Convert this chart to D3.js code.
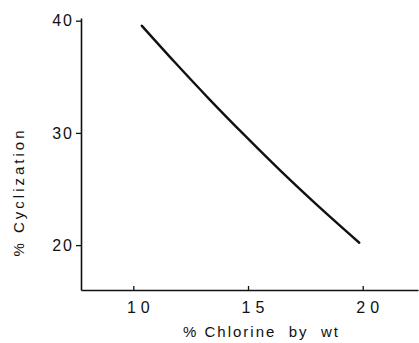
<!DOCTYPE html>
<html>
<head>
<meta charset="utf-8">
<script src="https://d3js.org/d3.v7.min.js"></script>
<style>
  body { margin: 0; background: #fff; }
  text { font-family: "Liberation Sans", Arial, sans-serif; fill: #111; }
</style>
</head>
<body>
<div id="graph"></div>
<script>
      // size of the picture
      var w = 419;
      var h = 343;

      // values
      var chlorine = [10.37, 11.82, 13.34, 14.87, 16.39, 17.92, 19.85];
      var cyclization = [39.55, 36.27, 32.95, 29.75, 26.68, 23.74, 20.21];

      // tick labels
      var xTicks = [10, 15, 20];
      var yTicks = [20, 30, 40];

      var xScale = d3.scaleLinear()
                      .domain([7.72, 22.41])
                      .range([81, 418]);

      var yScale = d3.scaleLinear()
                      .domain([16, 40.24])
                      .range([290, 18]);

      var svg = d3.select("#graph")
                  .append("svg")
                  .attr("width", w)
                  .attr("height", h);

      // x axis, ticks point up into the plot
      var xAxis = d3.axisBottom(xScale)
                      .tickValues(xTicks)
                      .tickSizeInner(-4)
                      .tickSizeOuter(0)
                      .tickPadding(12)
                      .tickFormat(function(d){ return d; });

      var gx = svg.append("g")
          .attr("transform", "translate(0," + yScale(16) + ")")
          .call(xAxis);

      gx.select(".domain").attr("stroke", "#111").attr("stroke-width", 1.6);
      gx.selectAll(".tick line").attr("stroke", "#111").attr("stroke-width", 1.3);
      gx.selectAll(".tick text")
          .attr("font-size", "16px")
          .attr("letter-spacing", "5px")
          .attr("dx", "7px")
          .attr("font-family", "Liberation Sans, Arial, sans-serif")
          .attr("fill", "#111");

      // y axis, ticks point left
      var yAxis = d3.axisLeft(yScale)
                      .tickValues(yTicks)
                      .tickSizeInner(5)
                      .tickSizeOuter(0)
                      .tickPadding(2)
                      .tickFormat(function(d){ return d; });

      var gy = svg.append("g")
          .attr("transform", "translate(" + xScale(7.72) + ",0)")
          .call(yAxis);

      gy.select(".domain").attr("stroke", "#111").attr("stroke-width", 1.6);
      gy.selectAll(".tick line").attr("stroke", "#111").attr("stroke-width", 1.3);
      gy.selectAll(".tick text")
          .attr("font-size", "16px")
          .attr("letter-spacing", "2px")
          .attr("font-family", "Liberation Sans, Arial, sans-serif")
          .attr("fill", "#111");

      // the curve, gently flattening toward high chlorine
      var line = d3.line()
          .x(function(d, i){ return xScale(chlorine[i]); })
          .y(function(d){ return yScale(d); })
          .curve(d3.curveMonotoneX);

      svg.append("path")
          .datum(cyclization)
          .attr("d", line)
          .attr("fill", "none")
          .attr("stroke", "#111")
          .attr("stroke-width", 2.4)
          .attr("stroke-linecap", "round");

      // axis titles
      svg.append("text")
          .text("% Chlorine  by  wt")
          .attr("x", 183)
          .attr("y", 337)
          .attr("font-size", "15px")
          .attr("letter-spacing", "2px")
          .attr("xml:space", "preserve")
          .style("white-space", "pre");

      svg.append("text")
          .text("% Cyclization")
          .attr("transform", "translate(24,192) rotate(-90)")
          .attr("text-anchor", "middle")
          .attr("font-size", "15px")
          .attr("letter-spacing", "3px");
</script>
</body>
</html>
